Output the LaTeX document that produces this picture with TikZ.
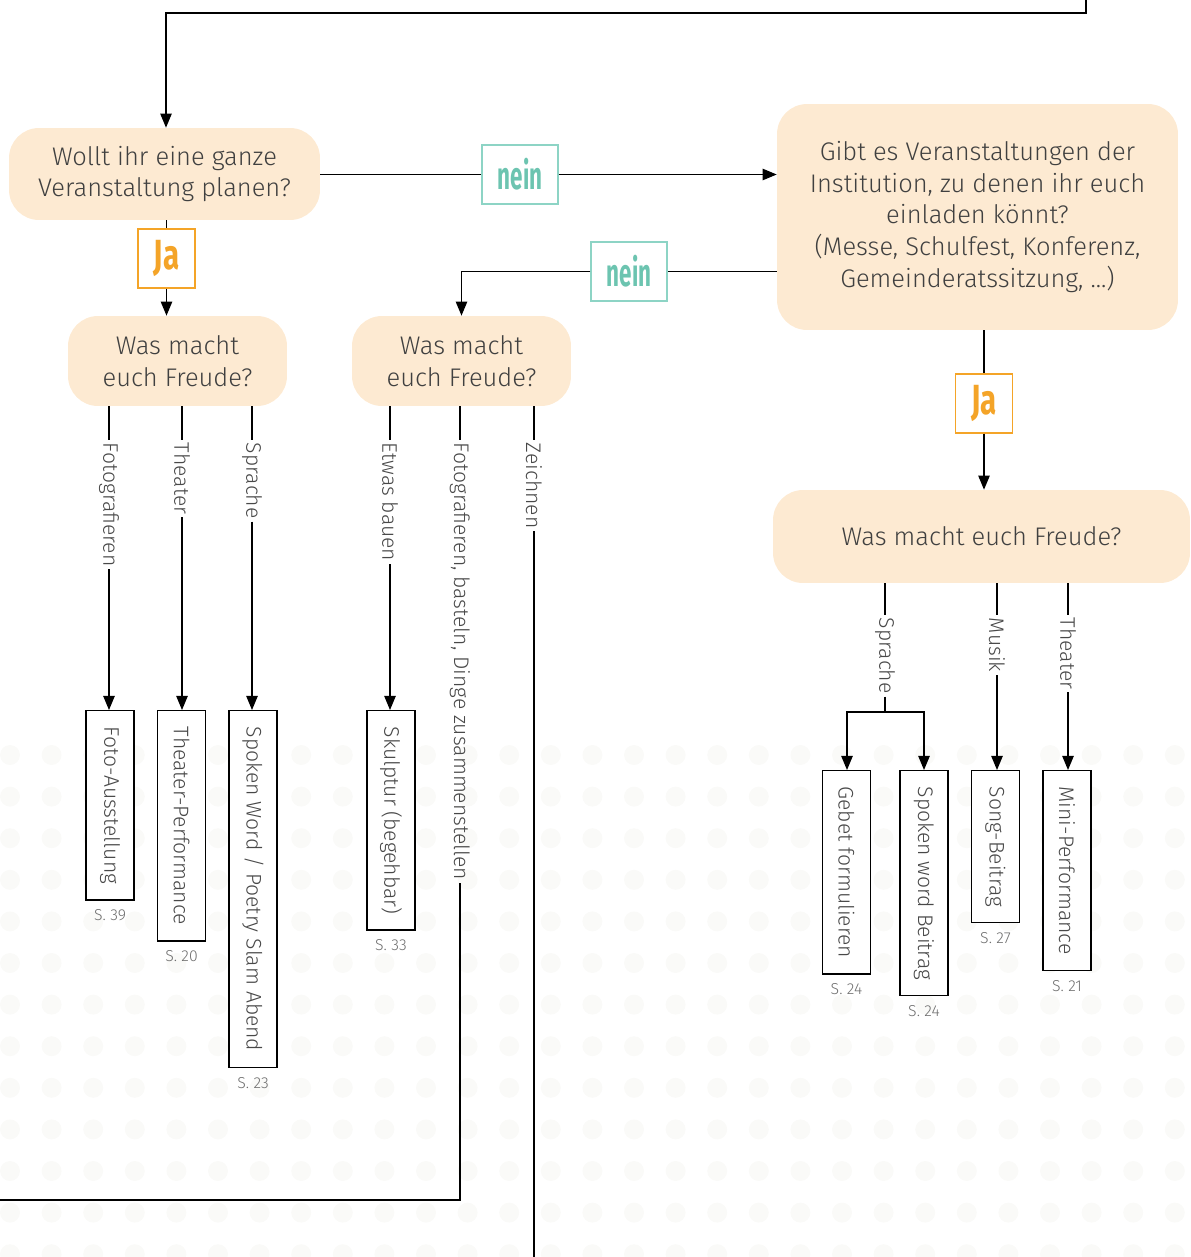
\documentclass[tikz,border=0pt]{standalone}
\usepackage{fontspec}
\usepackage{graphicx}
\setmainfont{Fira Sans Light}
\newfontfamily\jafont{Fira Sans Bold}
\usetikzlibrary{arrows.meta,positioning}

\definecolor{peach}{RGB}{253,234,210}
\definecolor{jaorange}{RGB}{244,164,40}
\definecolor{neinteal}{RGB}{108,196,176}
\definecolor{neinframe}{RGB}{141,212,197}
\definecolor{textgray}{RGB}{64,64,64}
\definecolor{labelgray}{RGB}{72,72,72}
\definecolor{pagegray}{RGB}{110,110,110}
\definecolor{dotgray}{RGB}{250,250,248}

\begin{document}
\begin{tikzpicture}
[%%%%%%%%%%%%%%%%%%%%%%%%%%%%%%
x=0.02cm,y=-0.02cm,
question/.style={rectangle,rounded corners=0.6cm,fill=peach,text=textgray,align=center,font=\fontsize{14.5}{18}\selectfont},
jabox/.style={rectangle,draw=jaorange,fill=white,line width=0.6pt,minimum width=1.14cm,minimum height=1.18cm,text=jaorange,font=\jafont\fontsize{24}{24}\selectfont},
neinbox/.style={rectangle,draw=neinframe,fill=white,line width=0.6pt,minimum width=1.52cm,minimum height=1.18cm,text=neinteal,font=\jafont\fontsize{22}{22}\selectfont},
choice/.style={rotate=-90,anchor=west,inner sep=1.5pt,text=labelgray,font=\fontsize{12}{14}\selectfont},
result/.style={rectangle,draw=black,line width=0.75pt,fill=white,rotate=-90,anchor=west,inner xsep=0.32cm,minimum height=0.96cm,text=labelgray,font=\fontsize{12}{14}\selectfont},
page/.style={inner sep=1pt,text=pagegray,font=\fontsize{9}{10}\selectfont},
plain/.style={line width=0.7pt},
flow/.style={line width=0.7pt,-{Triangle[length=8pt,width=6.5pt]}},
]%%%%%%%%%%%%%%%%%%%%%%%%%%%%%%

\useasboundingbox (0,0) rectangle (1190,1257);

% dotted background
\foreach \i in {0,1,...,28}{
\foreach \j in {0,1,...,12}
\fill[dotgray] (10+41.6*\i,755+41.6*\j) circle (0.2cm);
}

% questions
\node[question,minimum width=6.22cm,minimum height=1.84cm] (ganze) at (164.5,174) {Wollt ihr eine ganze\\Veranstaltung planen?};
\node[question,minimum width=8.02cm,minimum height=4.52cm] (einladen) at (977.5,217) {Gibt es Veranstaltungen der\\Institution, zu denen ihr euch\\einladen könnt?\\(Messe, Schulfest, Konferenz,\\Gemeinderatssitzung, ...)};
\node[question,minimum width=4.38cm,minimum height=1.8cm] (freude1) at (177.5,361) {Was macht\\euch Freude?};
\node[question,minimum width=4.38cm,minimum height=1.8cm] (freude2) at (461.5,361) {Was macht\\euch Freude?};
\node[question,minimum width=8.34cm,minimum height=1.86cm] (freude3) at (981.5,536.5) {Was macht euch Freude?};

% ja / nein
\node[jabox] (ja1) at (166.5,258.5) {\scalebox{0.7}[1]{Ja}};
\node[jabox] (ja2) at (984,403.5) {\scalebox{0.7}[1]{Ja}};
\node[neinbox] (nein1) at (520,174.5) {\scalebox{0.58}[1]{nein}};
\node[neinbox] (nein2) at (629,271.5) {\scalebox{0.58}[1]{nein}};

\coordinate (top) at (1086,0);
\coordinate (topbend) at (166,13);
\draw[flow] (top) |- (topbend) -- (topbend |- ganze.north);

\draw[plain] (ganze.east |- nein1) -- (nein1);
\draw[flow] (nein1) -- (einladen.west |- nein1);
\draw[plain] (einladen.west |- nein2) -- (nein2);
\draw[flow] (nein2) -| (freude2.north);
\draw[plain] (ja1 |- ganze.south) -- (ja1);
\draw[flow] (ja1) -- (ja1 |- freude1.north);
\draw[plain] (ja2 |- einladen.south) -- (ja2);
\draw[flow] (ja2) -- (ja2 |- freude3.north);

% first branch
\node[choice] (foto) at (109,440) {Fotografieren};
\node[choice] (theater1) at (182,440) {Theater};
\node[choice] (sprache1) at (252,440) {Sprache};
\node[result] (ausstellung) at (110,710) {Foto-Ausstellung};
\node[result] (performance) at (181.5,710) {Theater-Performance};
\node[result] (slam) at (253,710) {Spoken Word / Poetry Slam Abend};
\node[page,below=4pt of ausstellung.east] (p39) {S. 39};
\node[page,below=4pt of performance.east] (p20) {S. 20};
\node[page,below=4pt of slam.east] (p23) {S. 23};

\draw[plain] (freude1.south -| foto.west) -- (foto.west);
\draw[flow] (foto.east) -- (foto.east |- ausstellung.west);
\draw[plain] (freude1.south -| theater1.west) -- (theater1.west);
\draw[flow] (theater1.east) -- (theater1.east |- performance.west);
\draw[plain] (freude1.south -| sprache1.west) -- (sprache1.west);
\draw[flow] (sprache1.east) -- (sprache1.east |- slam.west);

% second branch
\node[choice] (bauen) at (390,440) {Etwas bauen};
\node[choice] (basteln) at (460,440) {Fotografieren, basteln, Dinge zusammenstellen};
\node[choice] (zeichnen) at (534,440) {Zeichnen};
\node[result] (skulptur) at (391,710) {Skulptur (begehbar)};
\node[page,below=4pt of skulptur.east] (p33) {S. 33};
\coordinate (bastelnout) at (0,1200);
\coordinate (zeichnenout) at (534,1257);

\draw[plain] (freude2.south -| bauen.west) -- (bauen.west);
\draw[flow] (bauen.east) -- (bauen.east |- skulptur.west);
\draw[plain] (freude2.south -| basteln.west) -- (basteln.west);
\draw[plain] (basteln.east) |- (bastelnout);
\draw[plain] (freude2.south -| zeichnen.west) -- (zeichnen.west);
\draw[plain] (zeichnen.east) -- (zeichnenout);

% third branch
\node[choice] (sprache2) at (885,615) {Sprache};
\node[choice] (musik) at (997,615) {Musik};
\node[choice] (theater2) at (1068,615) {Theater};
\node[result] (gebet) at (846.5,770) {Gebet formulieren};
\node[result] (spokenword) at (924,770) {Spoken word Beitrag};
\node[result] (song) at (995.5,770) {Song-Beitrag};
\node[result] (mini) at (1067,770) {Mini-Performance};
\node[page,below=4pt of gebet.east] (p24a) {S. 24};
\node[page,below=4pt of spokenword.east] (p24b) {S. 24};
\node[page,below=4pt of song.east] (p27) {S. 27};
\node[page,below=4pt of mini.east] (p21) {S. 21};
\coordinate (split) at (885,712);

\draw[plain] (freude3.south -| sprache2.west) -- (sprache2.west);
\draw[plain] (sprache2.east) -- (split);
\draw[flow] (split) -| (847,770);
\draw[flow] (split) -| (924,770);
\draw[plain] (freude3.south -| musik.west) -- (musik.west);
\draw[flow] (musik.east) -- (musik.east |- song.west);
\draw[plain] (freude3.south -| theater2.west) -- (theater2.west);
\draw[flow] (theater2.east) -- (theater2.east |- mini.west);
\end{tikzpicture}
\end{document}
